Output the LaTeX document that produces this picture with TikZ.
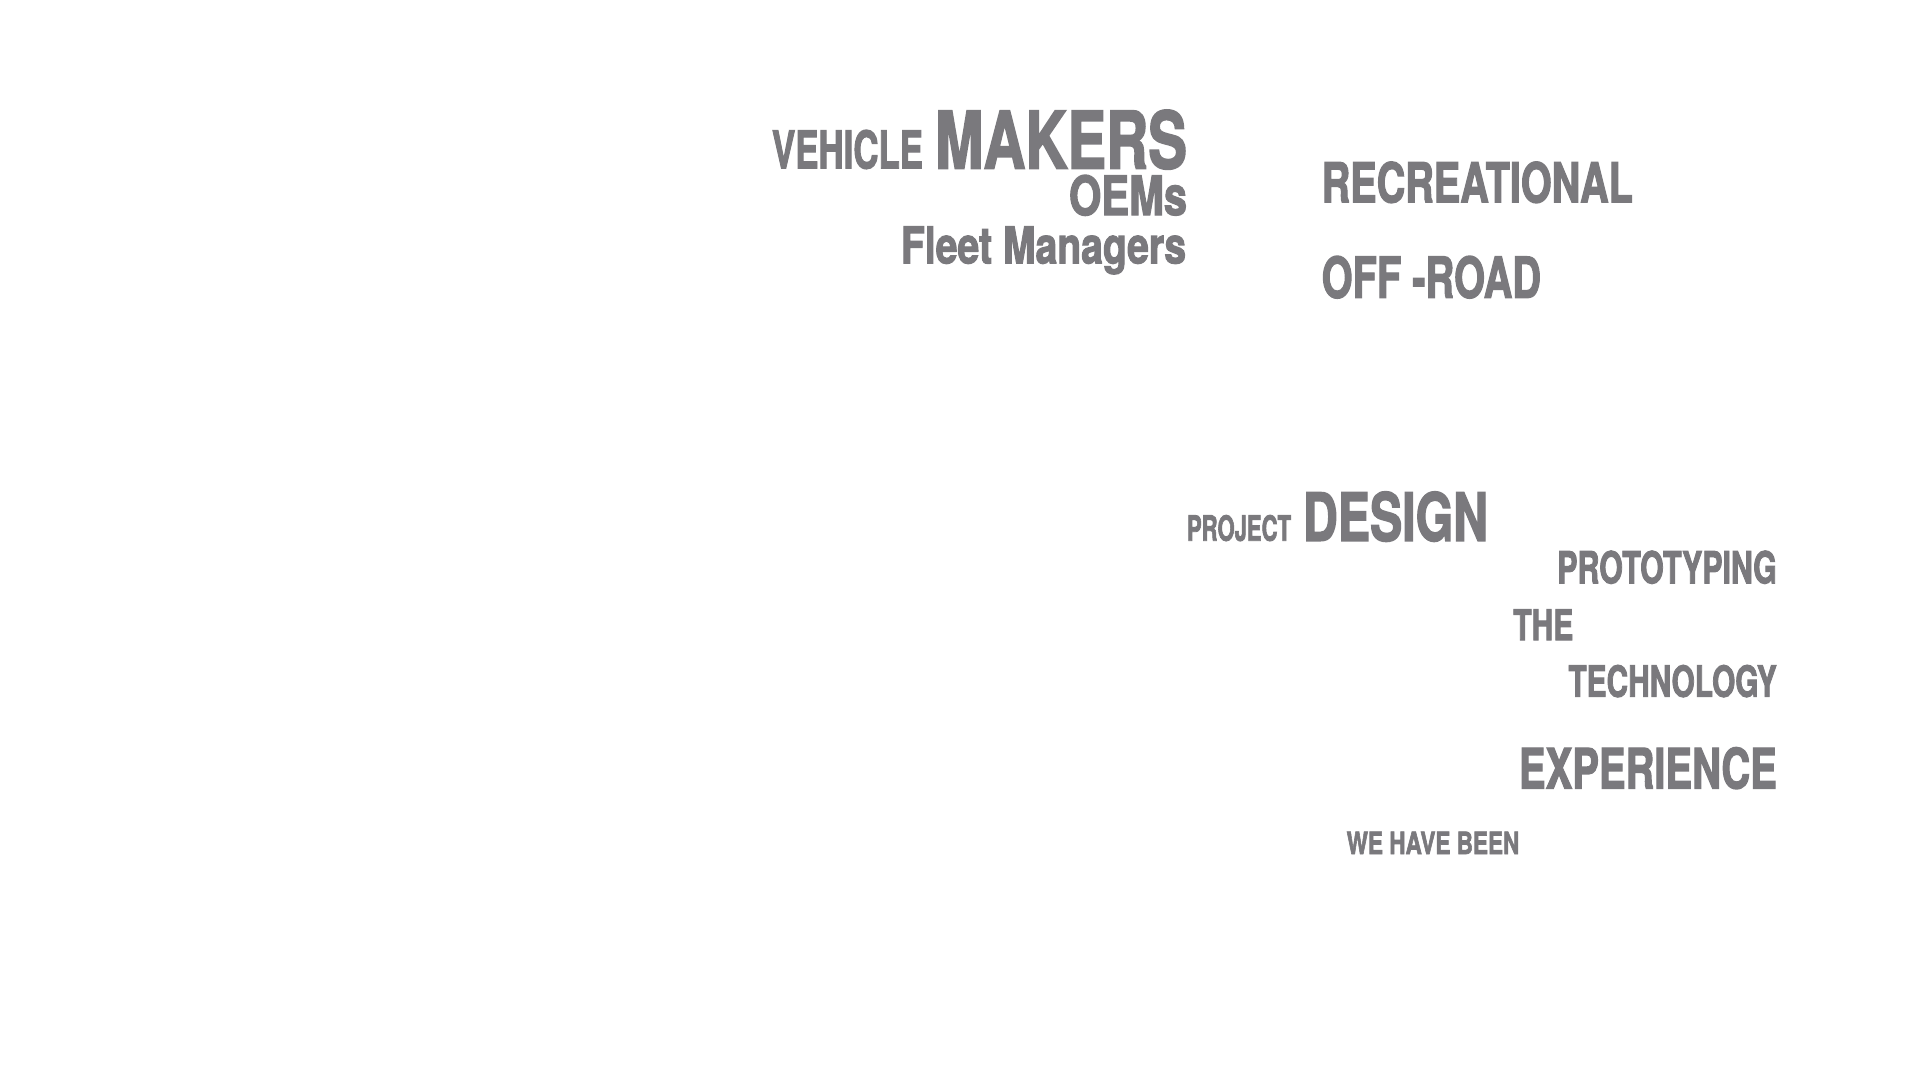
\documentclass[tikz,border=0pt]{standalone}
\usepackage{fontspec}
\usepackage{graphicx}
\setmainfont{TeX Gyre Heros}
\newfontfamily\heavy{TeX Gyre Heros Bold}[FakeBold=2.5]
\definecolor{inkgrey}{RGB}{122,121,125}
\newcommand{\fitbox}[3]{\resizebox{#1pt}{#2pt}{#3}}
\tikzset{
  word/.style={inner sep=0pt, outer sep=0pt, anchor=base west, text=inkgrey, font=\heavy}
}
\begin{document}
\begin{tikzpicture}[x=1pt,y=-1pt]
\useasboundingbox (0,0) rectangle (1920,1080);
\fill[white] (0,0) rectangle (1920,1080);
% left cluster
\node[word] (vehicle) at (772,168.3) {\fitbox{151}{38.3}{VEHICLE}};
\node[word] (makers) at (935,168.3) {\fitbox{252}{58.3}{MAKERS}};
\node[word] (oems) at (1069,215) {\fitbox{118}{40}{OEMs}};
\node[word] (fleet) at (901,263.3) {\fitbox{285}{36.7}{Fleet Managers}};
% right top
\node[word] (recreational) at (1321.7,202.3) {\fitbox{311}{40.6}{RECREATIONAL}};
\node[word] (offroad) at (1321.7,297.7) {\fitbox{219.3}{41.7}{OFF -ROAD}};
% middle cluster
\node[word] (project) at (1187,540.7) {\fitbox{104}{25.7}{PROJECT}};
\node[word] (design) at (1303,540.7) {\fitbox{185}{49}{DESIGN}};
\node[word] (prototyping) at (1557.3,583.3) {\fitbox{219.4}{32.6}{PROTOTYPING}};
\node[word] (the) at (1513.3,640) {\fitbox{60}{30.7}{THE}};
\node[word] (technology) at (1568.5,696.7) {\fitbox{208.2}{31.7}{TECHNOLOGY}};
\node[word] (experience) at (1519,788.3) {\fitbox{257.7}{41}{EXPERIENCE}};
\node[word] (wehavebeen) at (1346.7,854) {\fitbox{172.6}{22.3}{WE HAVE BEEN}};
\end{tikzpicture}
\end{document}
